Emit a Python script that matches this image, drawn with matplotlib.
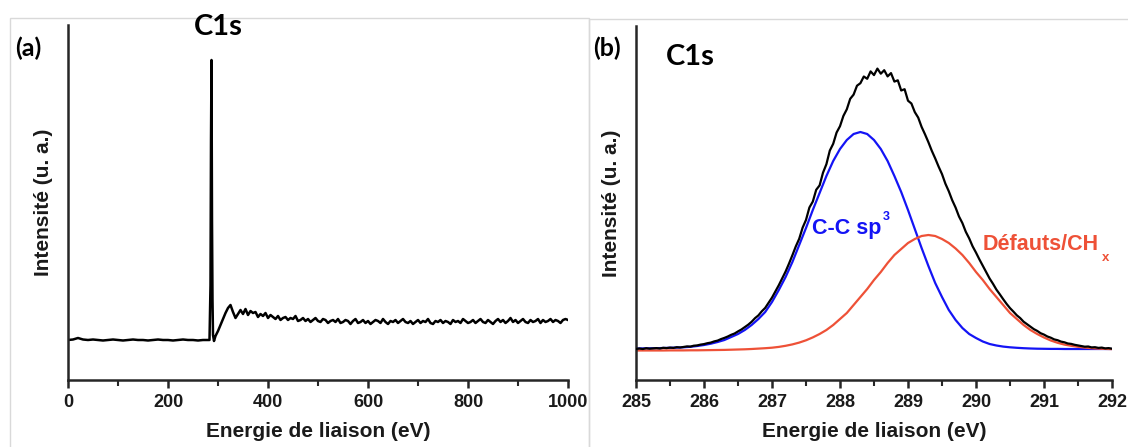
import numpy as np
import matplotlib
matplotlib.use("Agg")
import matplotlib.pyplot as plt
from matplotlib.patches import Rectangle
from matplotlib.ticker import MultipleLocator

# ---------------- data : panel (a) survey spectrum ----------------
surv_base_vals = [40, 40.5, 42, 40.5, 40, 40.5, 40, 39.5, 40, 40.5, 40, 39.5, 40, 40.5,
                  40, 40, 39.5, 40, 40.5, 40, 40, 39.5, 40, 40.5, 40, 40, 39.5, 40, 40]  # 0..280 eV
surv_peak_e = [283, 285, 286, 287, 288, 289, 290, 292]
surv_peak_vals = [40, 95, 240, 320, 160, 80, 45, 39]
surv_tail_vals = [
    44, 49, 55, 61, 67, 72, 75, 68, 62, 66, 70, 66, 71, 65, 69, 67, 68, 63, 66, 64,
    67, 62, 65, 63, 61, 64, 60, 62, 63, 60, 62, 61, 64, 59, 60, 62, 59, 61, 58, 60,
    62, 59, 58, 61, 60, 57, 59, 60, 58, 61, 57, 58, 60, 59, 56, 59, 61, 57, 58, 60,
    57, 59, 56, 58, 60, 59, 57, 61, 58, 56, 59, 58, 60, 57, 59, 61, 58, 57, 59, 56,
    58, 60, 57, 59, 58, 61, 57, 56, 59, 58, 60, 57, 59, 58, 56, 60, 58, 59, 57, 61,
    59, 57, 58, 60, 57, 59, 61, 58, 57, 60, 58, 56, 59, 61, 58, 60, 57, 59, 62, 58,
    60, 57, 59, 61, 58, 57, 60, 58, 59, 61, 57, 60, 58, 59, 61, 58, 60, 59, 57, 60,
    61, 60]  # 295..1000 eV

# ---------------- data : panel (b) C1s high resolution ----------------
fit_e = np.round(np.linspace(285.0, 292.0, 71), 2)
cc_sp3 = [31.5, 31.6, 31.7, 31.8, 32, 32.2, 32.4, 32.7, 33.2, 34, 35, 36.3, 38, 40, 43,
          46, 50, 55, 61, 68, 78, 90, 103, 118, 135, 152, 170, 187, 204, 219, 231, 240,
          246, 248, 246, 240, 231, 219, 204, 188, 170, 151, 132, 114, 97, 83, 70, 60, 52,
          46, 42, 38.5, 36, 34.5, 33.4, 32.7, 32.2, 31.8, 31.5, 31.3, 31.2, 31.1, 31.1,
          31, 31, 31, 31, 31, 31, 31, 31]
defauts = [29.5, 29.5, 29.5, 29.5, 29.5, 29.6, 29.6, 29.6, 29.7, 29.7, 29.8, 29.9, 30,
           30.1, 30.3, 30.5, 30.7, 31, 31.4, 31.8, 32.3, 33.1, 34.2, 35.6, 37.4, 39.7,
           42.6, 46, 50, 55, 61, 67, 75, 83, 91, 100, 108, 117, 125, 131, 137, 141, 144,
           145, 144, 141, 137, 131.5, 125, 117, 108, 100, 91, 83, 75, 67, 61, 55, 50, 46,
           42.5, 39.5, 37.2, 35.4, 34.2, 33.2, 32.4, 31.8, 31.4, 31.1, 30.9]
exp_vals = [
    31, 31.5, 31, 31.8, 31.3, 31.6, 31.9, 31.5, 32.2, 31.9, 32.4, 32.1, 32.8, 32.5,
    33.1, 33.6, 33.4, 34.3, 34.6, 35.4, 35.9, 36.8, 37.4, 38.6, 39.4, 40.9, 42.1, 43.5,
    45.2, 46.5, 48.6, 50.5, 52.9, 55.3, 58.2, 61.8, 64.6, 68.7, 72.1, 77.3, 82.4, 88.6,
    94.8, 101.7, 108.5, 116.4, 124.8, 133.6, 141.2, 152.3, 160.1, 172.5, 178.4, 190.2,
    194.6, 207.3, 215.8, 229.4, 236.2, 247.5, 253.8, 264.1, 270.7, 281.2, 285.4, 294.3,
    296.8, 303.5, 301.2, 308.6, 304.9, 311.4, 306.3, 309.8, 303.6, 306.9, 298.4, 299.7,
    289.5, 290.8, 279.3, 276.5, 267.9, 262.4, 253.1, 245.7, 237.8, 229.2, 221.6, 213.4,
    205.9, 196.3, 188.7, 179.8, 172.4, 163.5, 156.9, 148.2, 141.6, 133.7, 127.4, 120.6,
    114.3, 107.9, 101.5, 96.2, 90.4, 85.7, 80.8, 76.1, 71.9, 68.4, 64.7, 61.9, 58.3,
    55.8, 53.2, 50.9, 49.1, 46.8, 45.4, 43.5, 42.3, 40.6, 39.8, 38.4, 37.7, 36.5, 36.1,
    35.2, 34.6, 34.1, 33.3, 33.5, 32.6, 32.8, 32.1, 32.4, 31.6, 31.9, 31.3]

xticks_a = [0, 200, 400, 600, 800, 1000]
xticks_b = [285, 286, 287, 288, 289, 290, 291, 292]

# ---------------- build arrays ----------------
surv_e = np.concatenate([np.linspace(0, 280, len(surv_base_vals)),
                         surv_peak_e,
                         np.linspace(295, 1000, len(surv_tail_vals))])
surv_i = np.concatenate([surv_base_vals, surv_peak_vals, surv_tail_vals])
exp_e = np.linspace(285.0, 292.0, len(exp_vals))

# ---------------- figure ----------------
W, H = 1128, 447
fig = plt.figure(figsize=(W / 100, H / 100), dpi=100)
fig.patch.set_facecolor("white")

# faint frames around the two panels
fig.add_artist(Rectangle((10 / W, -0.01), 579 / W, 1 - 18 / H + 0.01, transform=fig.transFigure,
                         fill=False, edgecolor="#d9d9d9", linewidth=1.0))
fig.add_artist(Rectangle((589 / W, -0.01), 540 / W, 1 - 19 / H + 0.01, transform=fig.transFigure,
                         fill=False, edgecolor="#d9d9d9", linewidth=1.0))

tick_font = "Liberation Sans"
lab_kw = dict(fontsize=15, fontweight="bold", family=tick_font, color="#1a1a1a")

def style(ax):
    for s in ("top", "right"):
        ax.spines[s].set_visible(False)
    for s in ("left", "bottom"):
        ax.spines[s].set_linewidth(1.8)
        ax.spines[s].set_color("#262626")
    ax.set_yticks([])
    ax.tick_params(axis="x", which="major", direction="out", length=6, width=1.8,
                   color="#262626", pad=4)
    ax.tick_params(axis="x", which="minor", direction="out", length=4, width=1.5,
                   color="#262626")
    for lbl in ax.get_xticklabels():
        lbl.set_fontfamily(tick_font)
        lbl.set_fontweight("bold")
        lbl.set_fontsize(13)
        lbl.set_color("#1a1a1a")

# panel (a)
axa = fig.add_axes([68 / W, 1 - 380 / H, 500 / W, 355 / H])
axa.plot(surv_e, surv_i, color="black", linewidth=1.8)
axa.set_xlim(0, 1000)
axa.set_ylim(0, 355)
axa.set_xticks(xticks_a)
axa.xaxis.set_minor_locator(MultipleLocator(100))
style(axa)
axa.set_xlabel("Energie de liaison (eV)", labelpad=8, **lab_kw)
axa.set_ylabel("Intensité (u. a.)", labelpad=11, **lab_kw)

# panel (b)
axb = fig.add_axes([636 / W, 1 - 380 / H, 476 / W, 354 / H])
axb.plot(exp_e, exp_vals, color="black", linewidth=1.6, zorder=3)
axb.plot(fit_e, cc_sp3, color="#1414f5", linewidth=1.6, zorder=2)
axb.plot(fit_e, defauts, color="#ee5137", linewidth=1.6, zorder=2)
axb.set_xlim(285, 292)
axb.set_ylim(0, 354)
axb.set_xticks(xticks_b)
axb.xaxis.set_minor_locator(MultipleLocator(0.5))
style(axb)
axb.set_xlabel("Energie de liaison (eV)", labelpad=8, **lab_kw)
axb.set_ylabel("Intensité (u. a.)", labelpad=11, **lab_kw)

# annotations
big = dict(family="Lato", fontweight="bold", color="black")
fig.text(218 / W, 1 - 27 / H, "C1s", fontsize=21, ha="center", va="center", **big)
fig.text(28 / W, 1 - 48 / H, "(a)", fontsize=18, ha="center", va="center", **big)
fig.text(607 / W, 1 - 48 / H, "(b)", fontsize=18, ha="center", va="center", **big)
fig.text(690 / W, 1 - 57 / H, "C1s", fontsize=21, ha="center", va="center", **big)

t1 = fig.text(812 / W, 1 - 228 / H, "C-C sp", fontsize=15.5, fontweight="bold",
              family=tick_font, color="#1414f5", ha="left", va="center")
axb.annotate("3", xy=(1.02, 0.72), xycoords=t1, fontsize=9, fontweight="bold",
             family=tick_font, color="#1414f5", ha="left", va="bottom")
t2 = fig.text(983 / W, 1 - 244 / H, "Défauts/CH", fontsize=15.5, fontweight="bold",
              family=tick_font, color="#ee5137", ha="left", va="center")
axb.annotate("x", xy=(1.02, 0.1), xycoords=t2, fontsize=9.5, fontweight="bold",
             family=tick_font, color="#ee5137", ha="left", va="top")

fig.savefig("out.png", dpi=100, facecolor="white")
